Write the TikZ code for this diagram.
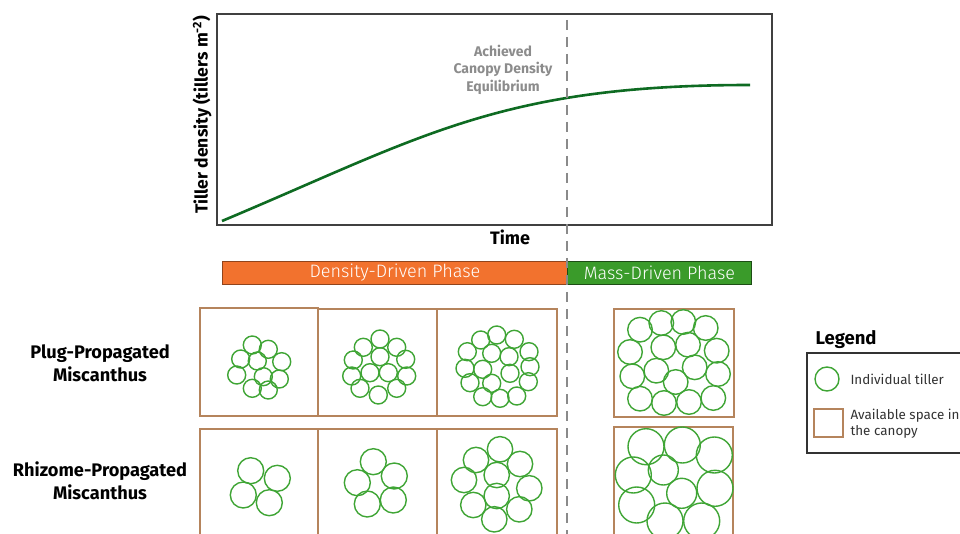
\documentclass[tikz,border=0pt]{standalone}
\usepackage{fontspec}
\setmainfont{Fira Sans}
\newfontfamily\lightfont{Fira Sans Light}
\definecolor{axisgray}{HTML}{404040}
\definecolor{dashgray}{HTML}{8A8A8A}
\definecolor{curvegreen}{HTML}{0E6B22}
\definecolor{tillergreen}{HTML}{3FA535}
\definecolor{spacebrown}{HTML}{B5845C}
\definecolor{phaseorange}{HTML}{F2722E}
\definecolor{phasegreen}{HTML}{3A9B2A}
\definecolor{labelgray}{HTML}{8C8C8C}
\tikzset{
  tiller/.style={draw=tillergreen, line width=1.4pt},
  canopy/.style={draw=spacebrown, line width=1.5pt},
  rowlabel/.style={font=\fontsize{18.2}{23}\selectfont\bfseries, align=center},
  phasebar/.style={minimum height=23pt, inner sep=0pt, text=white,
    font=\lightfont\fontsize{18}{18}\selectfont},
}
\newcommand{\tillers}[2]{\foreach \cx/\cy in {#2} {\draw[tiller] (\cx,\cy) circle (#1);}}
\begin{document}
\begin{tikzpicture}[x=1pt, y=-1pt]
\useasboundingbox[fill=white] (0,0) rectangle (960,534);

% plot frame
\draw[axisgray, line width=1.5pt] (217,14) rectangle (772,225);
\node[rotate=90, font=\fontsize{17.5}{18}\selectfont\bfseries] (ylab) at (202,115) {Tiller density (tillers m\textsuperscript{-2})};
\node[font=\fontsize{18}{18}\selectfont\bfseries] (xlab) at (510,237) {Time};

% tiller density curve
\coordinate (cstart) at (222,221);
\coordinate (cend) at (750,85);
\draw[curvegreen, line width=2.6pt] (cstart) .. controls (422,137) and (500,85) .. (cend);

% phase bars
\node[phasebar, fill=phaseorange, draw=phaseorange!60!black, line width=0.8pt, minimum width=345pt, anchor=north west] (dens) at (222,261) {Density-Driven Phase};
\node[phasebar, fill=phasegreen, draw=phasegreen!50!black, line width=0.8pt, minimum width=184pt, anchor=north west] (mass) at (567,261) {Mass-Driven Phase};

% phase boundary
\coordinate (eqtop) at (567,20);
\coordinate (eqbot) at (567,540);
\draw[dashgray, line width=2.4pt, dash pattern=on 10pt off 7pt] (eqtop) -- (eqbot);
\node[text=labelgray, align=center, font=\fontsize{14}{17.5}\selectfont\bfseries] (eqlab) at (503,69.5) {Achieved\\Canopy Density\\Equilibrium};

% row labels
\node[rowlabel] (plug) at (100,363) {Plug-Propagated\\Miscanthus};
\node[rowlabel] (rhiz) at (100,481) {Rhizome-Propagated\\Miscanthus};

% canopy squares, plug row
\draw[canopy] (200,308) rectangle (318,416);
\draw[canopy] (318,309) rectangle (437,416);
\draw[canopy] (437,309) rectangle (557,416);
\draw[canopy] (614,309) rectangle (734,417);
% canopy squares, rhizome row
\draw[canopy] (200,429) rectangle (318,545);
\draw[canopy] (318,429) rectangle (437,545);
\draw[canopy] (437,429) rectangle (557,545);
\draw[canopy] (614,427) rectangle (733,545);

% plug-propagated tillers
\tillers{9}{252.3/345, 268.3/349.3, 240.7/359, 257.3/361, 281.7/361.7, 236.7/375, 263.3/376.7, 279.3/379, 252.3/388.3, 268.3/390}
\tillers{9}{380/339, 396.7/347.3, 363.3/347.3, 380/356.7, 353.3/360, 405.7/359.3, 370/372.7, 388.3/372.7, 351.7/376, 406.7/376, 360/388.3, 396.7/388.3, 378.3/395}
\tillers{9}{496.7/335, 480.7/340, 514.3/339.3, 467.3/351.7, 491.7/353.3, 509/356.7, 529/351.7, 465/368.3, 482.7/369.3, 510/373.3, 530/366.7, 470/382.7, 491.7/383.3, 528.3/381.7, 482.7/396.7, 500/398.3, 516.7/396}
\tillers{12.3}{640/329.7, 661.3/323, 683.3/322, 705.7/328, 630/352, 663.3/347.3, 688/344.7, 716.7/350.7, 632.3/376.3, 656.3/370.7, 694.7/367.3, 718/374, 675.7/382, 640/398.7, 664/403, 689/402, 713.3/398}

% rhizome-propagated tillers
\tillers{13}{250.7/470.7, 277.3/478.3, 243.3/495, 269.3/502.7}
\tillers{13}{373.3/461.7, 357.3/482.7, 394.3/476, 367.3/504, 393.3/500}
\tillers{12.7}{500/449.3, 476/460, 520/464, 496.7/475, 464/480, 529.3/488.3, 496.7/496, 473.3/505, 519.3/509.3, 494.3/519.3}
\tillers{18}{646/446.7, 682.3/445, 714.3/455, 633.3/475, 715/488.3, 636.7/505, 665/521, 701.7/521}
\tillers{15}{663.3/470, 681.7/493.3}

% legend
\node[font=\fontsize{18.5}{18}\selectfont\bfseries] (legtitle) at (846,340) {Legend};
\draw[black!80, line width=1.4pt] (807,353) rectangle (975,453);
\draw[tiller] (827,379) circle (12);
\draw[canopy] (814,409) rectangle (843,437);
\node[anchor=west, font=\fontsize{13.4}{16}\selectfont, text=black!80] (legtiller) at (847,379) {Individual tiller};
\node[anchor=west, align=left, font=\fontsize{13.4}{16}\selectfont, text=black!80] (legspace) at (847,424) {Available space in\\the canopy};
\end{tikzpicture}
\end{document}
